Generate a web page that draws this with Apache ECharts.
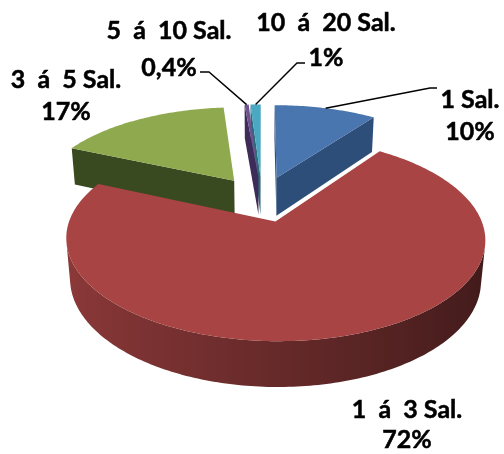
<!DOCTYPE html>
<html>
<head>
<meta charset="utf-8">
<script src="https://cdn.jsdelivr.net/npm/echarts@6/dist/echarts.min.js"></script>
<style>
  html, body { margin: 0; padding: 0; background: #ffffff; }
  #chart { width: 504px; height: 454px; }
</style>
</head>
<body>
<div id="chart"></div>
<script>
// Salary bands and their shares (%)
const categories = ['1 Sal.', '1  á  3 Sal.', '3  á  5 Sal.', '5  á  10 Sal.', '10  á  20 Sal.'];
const values = [10, 72, 17, 0.4, 1];

// Slice colours: top face and cut (radial) face
const topColors = ['#4A76B0', '#A84444', '#8FAA4E', '#6E5290', '#4AA8C2'];
const sideColors = ['#2E4E7A', '#6A2A28', '#3A4A20', '#3E2C58', '#2A6A7C'];

// Label placement in pixels: centre x, y of name line, y of percent line,
// and optional leader start / knee points
const labelLayout = [
  { x: 470, y1: 100, y2: 132, lead: [[437, 88], [430, 88]] },
  { x: 407, y1: 410, y2: 440 },
  { x: 66, y1: 80, y2: 112 },
  { x: 169, y1: 31, y2: 68, lead: [[200, 72], [209, 72]] },
  { x: 326, y1: 23, y2: 58, lead: [[305, 63], [297, 63]] }
];

// 3D view: camera distance (in pie radii), tilt, explosion and thickness
const CAM_DIST = 5.36;
const TILT = 26.7 * Math.PI / 180;
const EXPLODE = 0.25;
const DEPTH = 0.22;
const cosT = Math.cos(TILT), sinT = Math.sin(TILT);
const camPos = [0, CAM_DIST * sinT, CAM_DIST * cosT];

const total = values.reduce((a, b) => a + b, 0);
const starts = [];
values.reduce((acc, v) => { starts.push(acc); return acc + v; }, 0);
const sliceData = values.map((v, i) => [i, starts[i], v]);

function midAngle(i) {
  return (starts[i] + values[i] / 2) / total * Math.PI * 2;
}
// paint far slices first
const drawRank = [];
values.map((v, i) => i)
  .sort((a, b) => (-Math.cos(midAngle(a))) - (-Math.cos(midAngle(b))))
  .forEach((idx, r) => { drawRank[idx] = r; });

// perspective projection of a world point (X right, Y up, Z toward viewer)
function project(p) {
  const yc = p[1] * cosT - p[2] * sinT;
  const zc = p[1] * sinT + p[2] * cosT;
  const k = CAM_DIST / (CAM_DIST - zc);
  return [p[0] * k, -yc * k];
}
function facesCamera(n, p) {
  return n[0] * (camPos[0] - p[0]) + n[1] * (camPos[1] - p[1]) + n[2] * (camPos[2] - p[2]) > 0;
}
function shade(hex, f) {
  const c = parseInt(hex.slice(1), 16);
  const r = Math.round(((c >> 16) & 255) * f);
  const g = Math.round(((c >> 8) & 255) * f);
  const b = Math.round((c & 255) * f);
  return 'rgb(' + r + ',' + g + ',' + b + ')';
}
// wall brightness: lit from the left
function wallFactor(t) {
  return 0.61 - 0.23 * Math.sin(t);
}
function pctText(v) {
  return String(v).replace('.', ',') + '%';
}

function renderItem(params, api) {
  const i = api.value(0);
  const s = api.value(1);
  const v = api.value(2);
  const a0 = s / total * Math.PI * 2;
  const a1 = (s + v) / total * Math.PI * 2;
  const am = (a0 + a1) / 2;
  const ex = EXPLODE * Math.sin(am);
  const ez = -EXPLODE * Math.cos(am);
  const rim = (t, Y) => [ex + Math.sin(t), Y, ez - Math.cos(t)];
  const pt = p => api.coord(project(p));
  const base = drawRank[i] * 100;
  const children = [];

  // outer wall: collect runs of camera-facing strips, one shape per run
  const n = Math.max(2, Math.ceil((a1 - a0) / (Math.PI / 180)));
  const runs = [];
  let cur = null;
  for (let k = 0; k < n; k++) {
    const t0 = a0 + (a1 - a0) * k / n;
    const t1 = a0 + (a1 - a0) * (k + 1) / n;
    const tm = (t0 + t1) / 2;
    const nrm = [Math.sin(tm), 0, -Math.cos(tm)];
    if (facesCamera(nrm, rim(tm, -DEPTH / 2))) {
      if (!cur) { cur = [t0]; runs.push(cur); }
      cur.push(t1);
    } else {
      cur = null;
    }
  }
  runs.forEach(ts => {
    const upper = ts.map(t => pt(rim(t, 0)));
    const lower = ts.map(t => pt(rim(t, -DEPTH))).reverse();
    const xs = upper.map(p => p[0]);
    const xMin = Math.min.apply(null, xs), xMax = Math.max.apply(null, xs);
    const span = Math.max(1, xMax - xMin);
    const stops = ts.map((t, k) => ({
      offset: Math.min(1, Math.max(0, (upper[k][0] - xMin) / span)),
      color: shade(topColors[i], wallFactor(t))
    })).sort((a, b) => a.offset - b.offset);
    children.push({
      type: 'polygon',
      z2: base + 1,
      shape: { points: upper.concat(lower) },
      style: {
        fill: { type: 'linear', x: xMin, y: 0, x2: xMin + span, y2: 0, global: true, colorStops: stops }
      }
    });
  });

  // radial cut faces
  [[a0, -1], [a1, 1]].forEach(([t, sg]) => {
    const nrm = [sg * Math.cos(t), 0, sg * Math.sin(t)];
    const mid = [ex + 0.5 * Math.sin(t), -DEPTH / 2, ez - 0.5 * Math.cos(t)];
    if (!facesCamera(nrm, mid)) return;
    children.push({
      type: 'polygon',
      z2: base + 2,
      shape: { points: [pt([ex, 0, ez]), pt(rim(t, 0)), pt(rim(t, -DEPTH)), pt([ex, -DEPTH, ez])] },
      style: { fill: sideColors[i] }
    });
  });

  // top face
  const topPts = [pt([ex, 0, ez])];
  for (let k = 0; k <= n; k++) topPts.push(pt(rim(a0 + (a1 - a0) * k / n, 0)));
  children.push({
    type: 'polygon',
    z2: base + 50,
    shape: { points: topPts },
    style: { fill: topColors[i] }
  });

  // label and leader line
  const lay = labelLayout[i];
  const font = 'bold 25px Lato';
  const txt = { font: font, fill: '#000', stroke: '#000', lineWidth: 0.5, align: 'center', verticalAlign: 'middle', textAlign: 'center', textVerticalAlign: 'middle' };
  children.push({
    type: 'text', z2: 1000, x: lay.x, y: lay.y1,
    style: Object.assign({ text: categories[i] }, txt)
  });
  children.push({
    type: 'text', z2: 1000, x: lay.x, y: lay.y2,
    style: Object.assign({ text: pctText(v) }, txt)
  });
  if (lay.lead) {
    const end = pt(rim(am, 0));
    children.push({
      type: 'polyline', z2: 999,
      shape: { points: [lay.lead[0], lay.lead[1], end] },
      style: { stroke: '#000', lineWidth: 1.4, fill: null }
    });
  }
  return { type: 'group', children: children };
}

const chart = echarts.init(document.getElementById('chart'), null, { renderer: 'canvas' });
chart.setOption({
  animation: false,
  backgroundColor: '#ffffff',
  grid: { left: 0, right: 0, top: 0, bottom: 0 },
  xAxis: { type: 'value', min: -1.323, max: 1.222, show: false },
  yAxis: { type: 'value', min: -0.98, max: 1.26, inverse: true, show: false },
  series: [{
    type: 'custom',
    renderItem: renderItem,
    data: sliceData,
    clip: false
  }]
});
</script>
</body>
</html>
